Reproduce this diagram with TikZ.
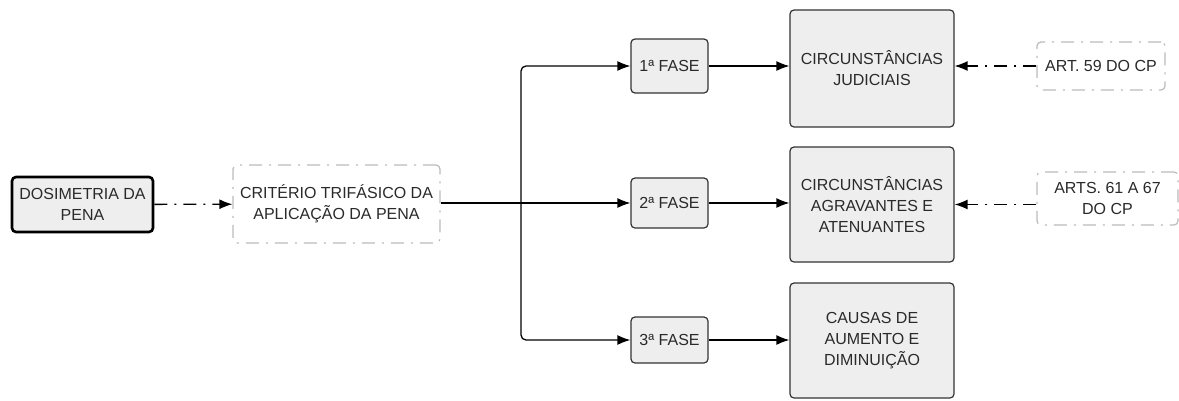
\documentclass[tikz,border=0pt]{standalone}
\usepackage{fontspec}
\setmainfont{Liberation Sans}
\usetikzlibrary{positioning}
\usetikzlibrary{arrows.meta}

\definecolor{boxfill}{HTML}{EEEEEE}
\definecolor{boxline}{HTML}{333333}
\definecolor{refline}{HTML}{BBBBBB}
\definecolor{txtgray}{HTML}{2A2A2A}

\tikzset{
  box/.style={draw=boxline, fill=boxfill, line width=1.2pt, rounded corners=4pt,
              align=center, text=txtgray, inner sep=0pt,
              font=\fontsize{16}{21}\selectfont},
  mainbox/.style={box, draw=black, line width=2.6pt},
  refbox/.style={box, draw=refline, fill=white,
                 dash pattern=on 13pt off 7pt on 2pt off 7pt},
  link/.style={line width=1.3pt, -{Latex[length=13pt,width=10pt]}},
  reflink/.style={link, dash pattern=on 13pt off 7pt on 2pt off 7pt},
}

\begin{document}
\begin{tikzpicture}[x=1pt,y=-1pt]
\useasboundingbox (0,0) rectangle (1179,400);
% left part
\node[mainbox, minimum width=141pt, minimum height=55pt] (dos) at (82.5,204.5) {DOSIMETRIA DA\\PENA};
\node[refbox, minimum width=207pt, minimum height=78pt] (crit) at (336.5,204) {CRITÉRIO TRIFÁSICO DA\\APLICAÇÃO DA PENA};
\coordinate (split) at (521,203);
% phases
\node[box, minimum width=77pt, minimum height=54pt] (f1) at (669.5,66) {1ª FASE};
\node[box, minimum width=77pt, minimum height=50pt] (f2) at (669.5,203) {2ª FASE};
\node[box, minimum width=77pt, minimum height=46pt] (f3) at (669.5,340) {3ª FASE};
% circumstances
\node[box, minimum width=164pt, minimum height=117pt] (c1) at (872,68.5) {CIRCUNSTÂNCIAS\\JUDICIAIS};
\node[box, minimum width=164pt, minimum height=115pt] (c2) at (872,204.5) {CIRCUNSTÂNCIAS\\AGRAVANTES E\\ATENUANTES};
\node[box, minimum width=164pt, minimum height=115pt] (c3) at (872,340.5) {CAUSAS DE\\AUMENTO E\\DIMINUIÇÃO};
% articles
\node[refbox, minimum width=128pt, minimum height=48pt] (a59) at (1101,66) {ART. 59 DO CP};
\node[refbox, minimum width=141pt, minimum height=53pt] (a61) at (1107.5,198.5) {ARTS. 61 A 67\\DO CP};

\path[reflink]
  (dos) edge (crit)
  (a59.west) edge (c1.east |- a59.west)
  (a61.west |- c2.east) edge (c2.east)
  ;
\draw[link] (crit.east |- split) -- (f2.west |- split);
\draw[link, rounded corners=5pt] (split) |- (f1.west);
\draw[link, rounded corners=5pt] (split) |- (f3.west);
\path[link]
  (f1) edge (c1.west |- f1)
  (f2) edge (c2.west |- f2)
  (f3) edge (c3.west |- f3)
  ;
\end{tikzpicture}
\end{document}
